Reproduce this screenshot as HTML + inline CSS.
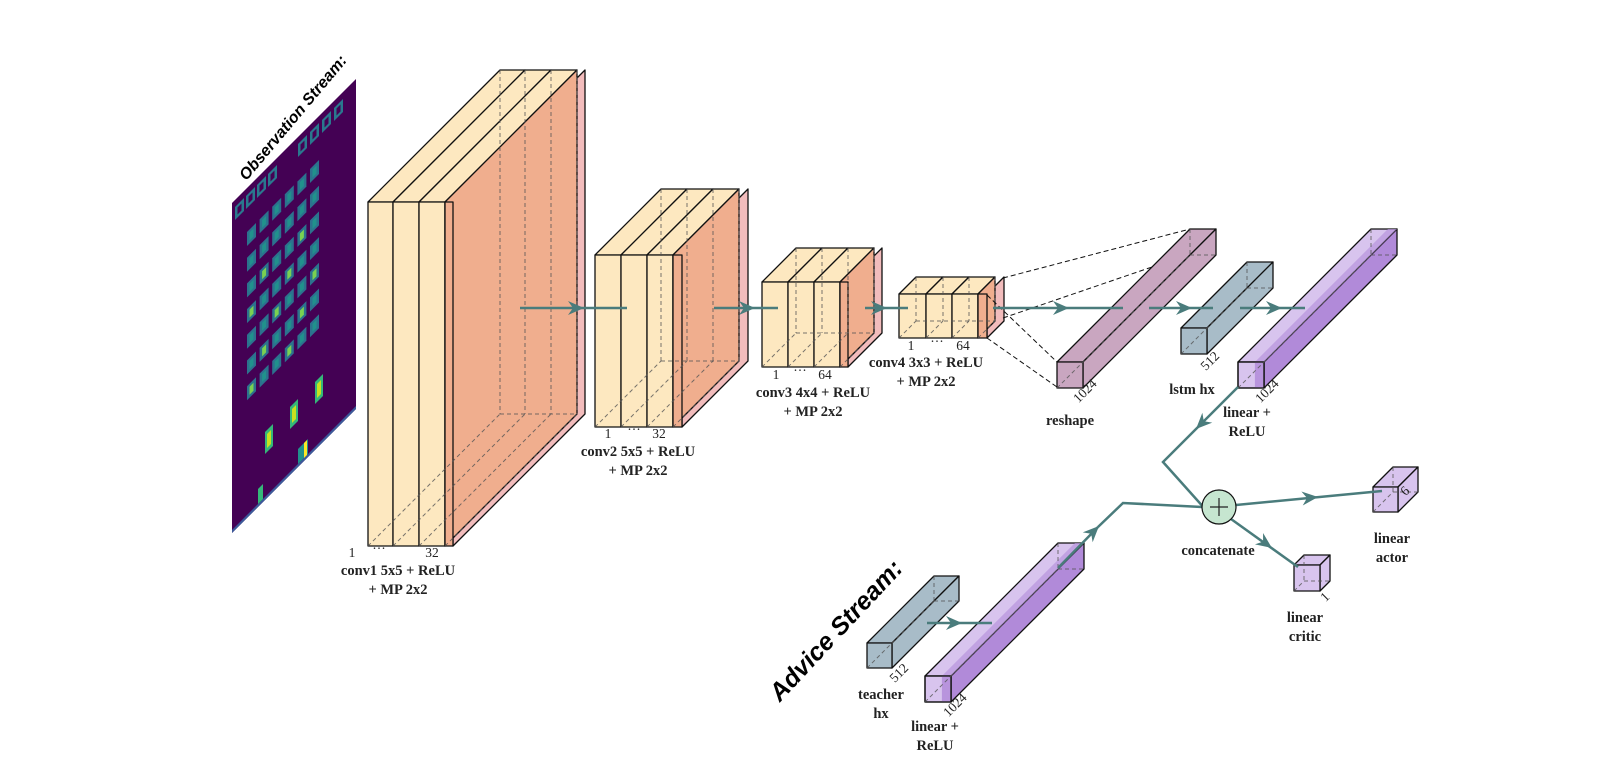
<!DOCTYPE html>
<html><head><meta charset="utf-8"><style>
html,body{margin:0;padding:0;background:#fff}
svg{display:block}
.l{font-family:"Liberation Serif",serif;font-weight:bold;font-size:14.5px;fill:#222;text-anchor:middle}
.n{font-family:"Liberation Serif",serif;font-size:13.5px;fill:#222;text-anchor:middle}
.s{font-family:"Liberation Sans",sans-serif;font-weight:bold;font-style:italic;fill:#000;text-anchor:middle}
</style></head><body>
<svg id="s" width="1622" height="772" viewBox="0 0 1622 772" xmlns="http://www.w3.org/2000/svg">
<g id="g"></g>
<text class="s" style="font-size:16px" transform="translate(297,121) rotate(-50)">Observation Stream:</text>
<text class="s" style="font-size:25px" transform="translate(842,636) rotate(-47)">Advice Stream:</text>
<g id="t">
<text class="n" x="352" y="557">1</text><text class="n" x="379" y="553">···</text><text class="n" x="432" y="557">32</text>
<text class="l" x="398" y="575">conv1 5x5 + ReLU</text><text class="l" x="398" y="594">+ MP 2x2</text>
<text class="n" x="608" y="438">1</text><text class="n" x="634" y="434">···</text><text class="n" x="659" y="438">32</text>
<text class="l" x="638" y="456">conv2 5x5 + ReLU</text><text class="l" x="638" y="475">+ MP 2x2</text>
<text class="n" x="776" y="379">1</text><text class="n" x="800" y="375">···</text><text class="n" x="825" y="379">64</text>
<text class="l" x="813" y="397">conv3 4x4 + ReLU</text><text class="l" x="813" y="416">+ MP 2x2</text>
<text class="n" x="911" y="350">1</text><text class="n" x="937" y="346">···</text><text class="n" x="963" y="350">64</text>
<text class="l" x="926" y="367">conv4 3x3 + ReLU</text><text class="l" x="926" y="386">+ MP 2x2</text>
<text class="l" x="1070" y="425">reshape</text>
<text class="l" x="1192" y="394">lstm hx</text>
<text class="l" x="1247" y="417">linear +</text><text class="l" x="1247" y="436">ReLU</text>
<text class="l" x="1218" y="555">concatenate</text>
<text class="l" x="1392" y="543">linear</text><text class="l" x="1392" y="562">actor</text>
<text class="l" x="1305" y="622">linear</text><text class="l" x="1305" y="641">critic</text>
<text class="l" x="881" y="699">teacher</text><text class="l" x="881" y="718">hx</text>
<text class="l" x="935" y="731">linear +</text><text class="l" x="935" y="750">ReLU</text>
<text class="n" transform="translate(1088,394) rotate(-45)">1024</text>
<text class="n" transform="translate(1213,364) rotate(-45)">512</text>
<text class="n" transform="translate(1270,394) rotate(-45)">1024</text>
<text class="n" transform="translate(1408,494) rotate(-45)">6</text>
<text class="n" transform="translate(1328,600) rotate(-45)">1</text>
<text class="n" transform="translate(902,676) rotate(-45)">512</text>
<text class="n" transform="translate(958,708) rotate(-45)">1024</text>
</g>
</svg>
<script>
var o='';
function P(pts,f,st,extra){o+='<polygon points="'+pts.map(function(p){return p.join(',')}).join(' ')+'" fill="'+f+'" stroke="'+(st||'#111')+'" stroke-width="1.3" stroke-linejoin="round" '+(extra||'')+'/>';}
function L(x1,y1,x2,y2,c,w,ex){o+='<line x1="'+x1+'" y1="'+y1+'" x2="'+x2+'" y2="'+y2+'" stroke="'+(c||'#111')+'" stroke-width="'+(w||1.3)+'" '+(ex||'')+'/>';}
function D(x1,y1,x2,y2){L(x1,y1,x2,y2,'#555',1,'stroke-dasharray="4,3" opacity="0.8"');}
o+='<g transform="translate(232,203) matrix(1,-1,0,1,0,0)"><rect x="0" y="0" width="124" height="330" fill="#440154"/>';
o+='<rect x="0" y="327" width="124" height="3" fill="#3b5a9a"/>';
var bx=[3,14,25,36,66,78,90,102];bx.forEach(function(u){o+='<rect x="'+u+'" y="7" width="9" height="13" fill="#2a788e"/><rect x="'+(u+2.5)+'" y="10" width="4" height="7" fill="#440154"/>';});
for(var c=0;c<6;c++)for(var r=0;r<7;r++){var u=15+c*12.6,v=44+r*25.7;var col=(r>1&&((r+c)%3==0))?'#7ad151':'#21918c';o+='<rect x="'+u+'" y="'+v+'" width="9" height="14" fill="#2c728e"/><rect x="'+(u+2.5)+'" y="'+(v+3)+'" width="4" height="8" fill="'+col+'"/>';}
[[33,262],[58,262],[83,262]].forEach(function(p){o+='<rect x="'+p[0]+'" y="'+p[1]+'" width="8" height="22" fill="#35b779"/><rect x="'+(p[0]+2)+'" y="'+(p[1]+4)+'" width="4" height="14" fill="#c8e020"/>';});
o+='<rect x="66" y="312" width="10" height="15" fill="#21918c"/><rect x="72" y="312" width="3" height="15" fill="#fde725"/><rect x="26" y="312" width="5" height="15" fill="#35b779"/></g>';
function conv(x0,y0,h,ws,t,d){
 var x=x0;
 ws.forEach(function(w){P([[x,y0],[x+d,y0-d],[x+w+d,y0-d],[x+w,y0]],'#fde8c0');P([[x,y0],[x+w,y0],[x+w,y0+h],[x,y0+h]],'#fde8c0');x+=w;});
 var xs=x,xr=x+t;
 P([[xr,y0],[xr+d,y0-d],[xr+d,y0+h-d],[xr,y0+h]],'#f2bcbc');
 P([[xs,y0],[xs+d,y0-d],[xs+d,y0+h-d],[xs,y0+h]],'#f0ae8e');
 P([[xs,y0],[xr,y0],[xr,y0+h],[xs,y0+h]],'#f0ae8e');
 var xx=x0;for(var i=0;i<=ws.length;i++){D(xx+d,y0-d,xx+d,y0+h-d);D(xx,y0+h,xx+d,y0+h-d);if(i<ws.length)xx+=ws[i];}
 D(x0+d,y0+h-d,xs+d,y0+h-d);
}
conv(368,202,344,[25,26,26],8,132);
conv(595,255,172,[26,26,26],9,66);
conv(762,282,85,[26,26,26],8,34);
conv(899,294,44,[27,26,26],9,17);
function bar(x,y,w,d,front,top,side,inner){
 P([[x,y],[x+d,y-d],[x+w+d,y-d],[x+w,y]],top);
 P([[x+w,y],[x+w+d,y-d],[x+w+d,y+w-d],[x+w,y+w]],side);
 if(inner){o+='<polygon points="'+(x+w*0.65)+','+y+' '+(x+w*0.65+d)+','+(y-d)+' '+(x+w+d)+','+(y-d)+' '+(x+w)+','+y+'" fill="'+inner+'" opacity="0.7"/>';}
 P([[x,y],[x+w,y],[x+w,y+w],[x,y+w]],front);
 if(inner){o+='<rect x="'+(x+w*0.65)+'" y="'+(y+0.7)+'" width="'+(w*0.35-0.7)+'" height="'+(w-1.4)+'" fill="'+inner+'"/>';P([[x,y],[x+w,y],[x+w,y+w],[x,y+w]],'none');}
 D(x+d,y-d,x+d,y+w-d);D(x+d,y+w-d,x+w+d,y+w-d);D(x,y+w,x+d,y+w-d);
}
L(1003,278,1190,229,'#111',1,'stroke-dasharray="5,3"');L(1003,318,1190,254,'#111',1,'stroke-dasharray="5,3"');
L(987,295,1057,362,'#111',1,'stroke-dasharray="5,3"');L(987,338,1057,387,'#111',1,'stroke-dasharray="5,3"');
bar(1057,362,26,133,'#c9a6c0','#c9a6c0','#c9a6c0');
bar(1181,328,26,66,'#a8bcc8','#a8bcc8','#a8bcc8');
bar(1238,362,26,133,'#d8c4ee','#d8c4ee','#b18ad9','#b894dd');
bar(867,643,25,67,'#a8bcc8','#a8bcc8','#a8bcc8');
bar(925,676,26,133,'#d8c4ee','#d8c4ee','#b18ad9','#b894dd');
bar(1373,487,25,20,'#d8c4ee','#d8c4ee','#d8c4ee');
bar(1294,565,26,10,'#d8c4ee','#d8c4ee','#d8c4ee');
var A='#4a7c7c';
function arr(x1,y1,x2,y2,tx,ty){L(x1,y1,x2,y2,A,2.5);var ang=Math.atan2(y2-y1,x2-x1)*180/Math.PI;o+='<path d="M0,0 L-16,-7 L-11,0 L-16,7 z" fill="'+A+'" transform="translate('+tx+','+ty+') rotate('+ang+')"/>';}
arr(520,308,627,308,584,308);
arr(714,308,778,308,755,308);
arr(865,308,908,308,887,308);
arr(993,308,1123,308,1069,308);
arr(1149,308,1213,308,1192,308);
arr(1240,308,1305,308,1282,308);
arr(927,623,992,623,962,623);
o+='<polyline points="1238,387 1163,462 1206,510" fill="none" stroke="'+A+'" stroke-width="2.5"/>';
o+='<path d="M0,0 L-16,-7 L-11,0 L-16,7 z" fill="'+A+'" transform="translate(1196,429) rotate(135)"/>';
o+='<polyline points="1058,568 1098,527" fill="none" stroke="'+A+'" stroke-width="2.5"/>';
o+='<path d="M0,0 L-16,-7 L-11,0 L-16,7 z" fill="'+A+'" transform="translate(1099,526) rotate(-45)"/>';
o+='<polyline points="1098,527 1123,503 1202,507" fill="none" stroke="'+A+'" stroke-width="2.5"/>';
arr(1236,505,1382,491,1318,497);
arr(1231,519,1298,567,1272,548);
o+='<circle cx="1219" cy="507" r="17" fill="#c6e6d0" stroke="#111" stroke-width="1.2"/>';
L(1210,507,1228,507,'#222',1.2);L(1219,498,1219,516,'#222',1.2);
document.getElementById('g').innerHTML=o;
</script>
</body></html>
